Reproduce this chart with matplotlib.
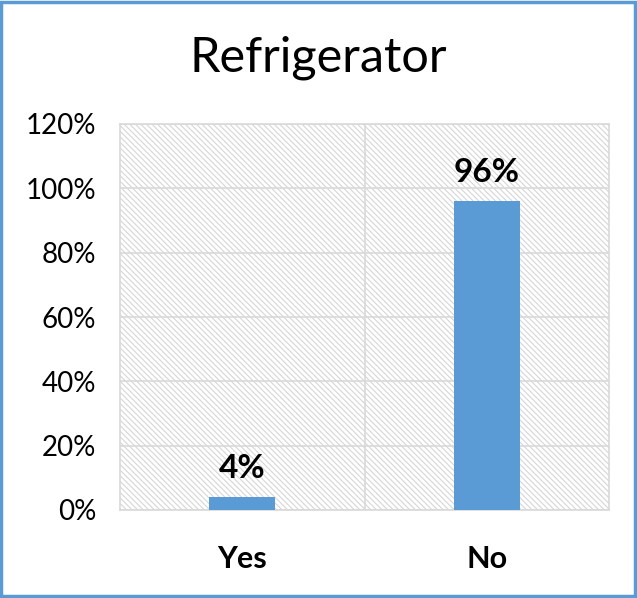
import matplotlib.pyplot as plt
import matplotlib.patches as mpatches
import numpy as np

# data
categories = ["Yes", "No"]
values = [4, 96]
y_ticks = [0, 20, 40, 60, 80, 100, 120]
title = "Refrigerator"

plt.rcParams['font.family'] = ['Lato', 'DejaVu Sans']
plt.rcParams['hatch.color'] = '#d6d6d6'
plt.rcParams['hatch.linewidth'] = 0.8

fig = plt.figure(figsize=(6.37, 5.98), dpi=100)
ax = fig.add_axes([120 / 637, 88 / 598, 489 / 637, 386 / 598])

# hatched plot area background
ax.add_patch(mpatches.Rectangle((0, 0), 1, 1, transform=ax.transAxes,
                                facecolor='white', edgecolor='#d6d6d6',
                                hatch='\\' * 6, lw=0, zorder=0))

x = np.arange(len(categories))
bars = ax.bar(x, values, width=0.27, color='#5B9BD5', zorder=3)

for xi, v in zip(x, values):
    ax.text(xi, v + 4.5, f"{v}%", ha='center', va='bottom',
            fontsize=24, fontweight='bold', color='black', zorder=4)

ax.set_xlim(-0.5, 1.5)
ax.set_ylim(0, 120)
ax.set_yticks(y_ticks)
ax.set_yticklabels([f"{t}%" for t in y_ticks], fontsize=20)
ax.set_xticks(x)
ax.set_xticklabels(categories, fontsize=22, fontweight='bold')
ax.tick_params(axis='y', length=0, pad=17)
ax.tick_params(axis='x', length=0, pad=25)

# gridlines
for t in y_ticks:
    ax.axhline(t, color='#d9d9d9', lw=1.2, zorder=1)
ax.axvline(0.5, color='#d9d9d9', lw=1.2, zorder=1)
for s in ax.spines.values():
    s.set_color('#d9d9d9')
    s.set_linewidth(1.2)

fig.text(0.5, 1 - 58 / 598, title, ha='center', va='center', fontsize=35)

# outer border
fig.patches.append(mpatches.Rectangle((0.002, 0.003), 0.995, 0.994,
                                      transform=fig.transFigure, fill=False,
                                      edgecolor='#5B9BD5', lw=2.5))

fig.savefig("out.png", dpi=100)
